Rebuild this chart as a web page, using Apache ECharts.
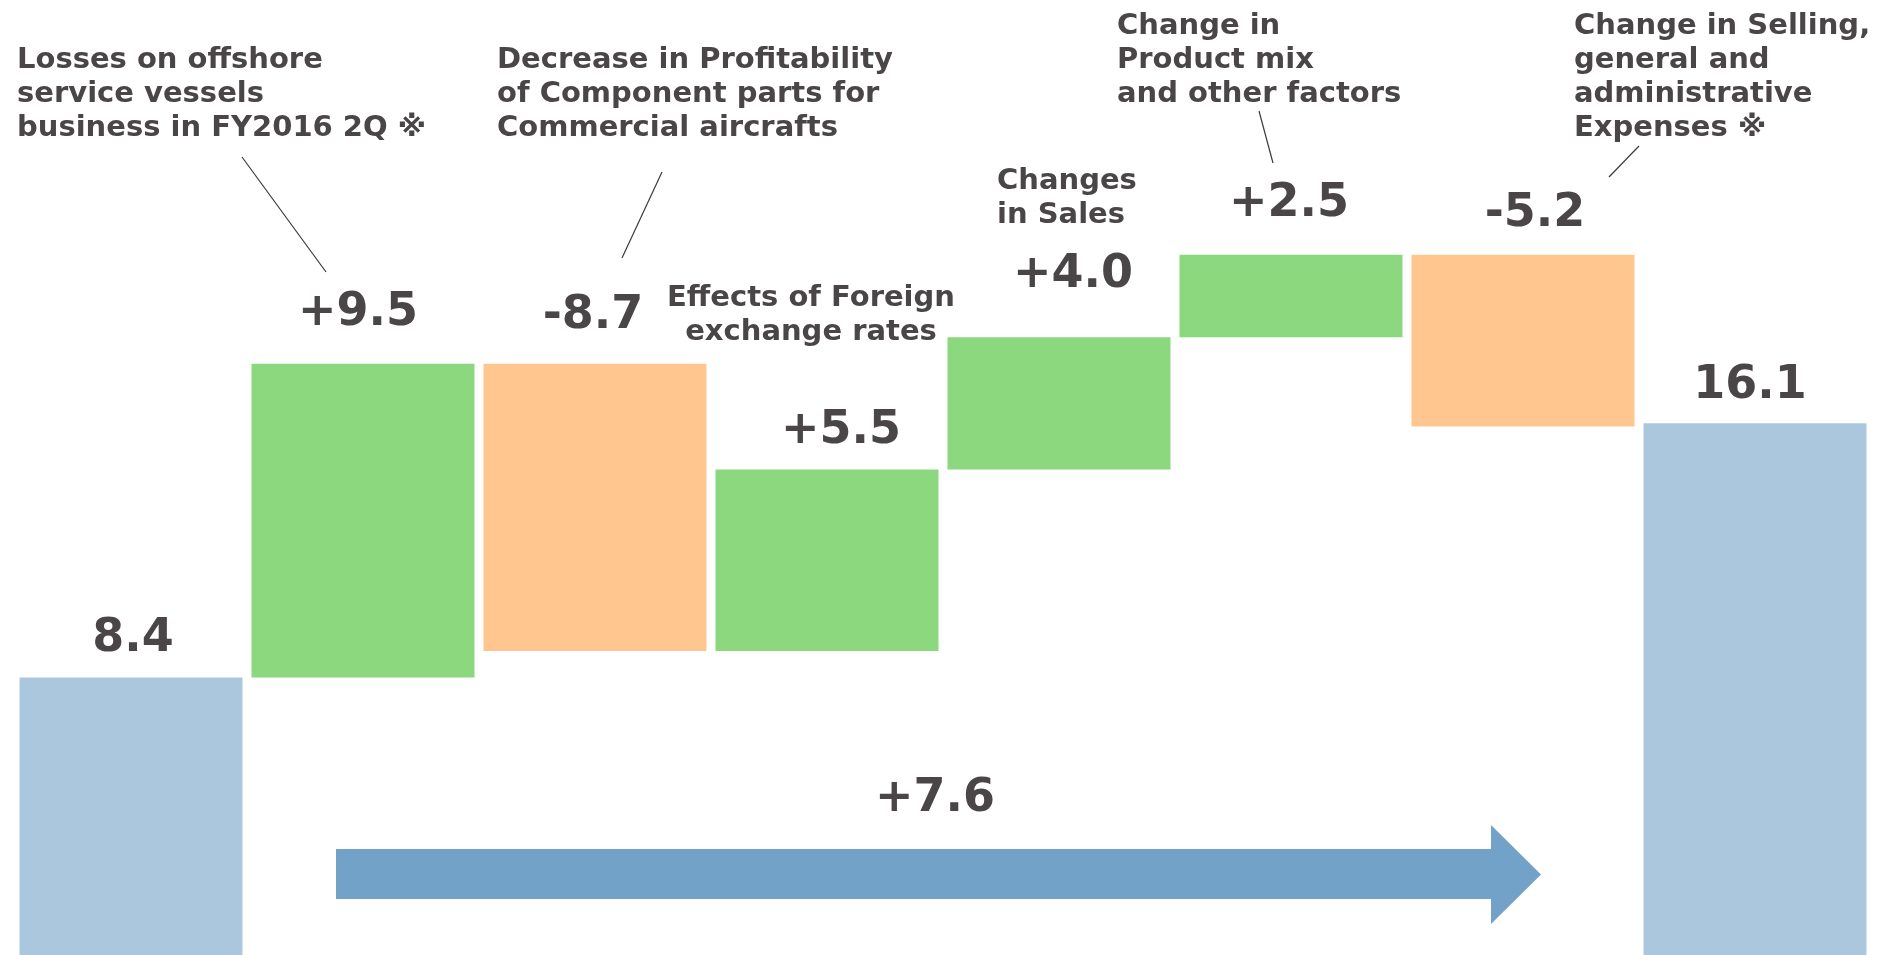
<!DOCTYPE html>
<html>
<head>
<meta charset="utf-8">
<script src="https://cdn.jsdelivr.net/npm/echarts@6/dist/echarts.min.js"></script>
<style>
html,body{margin:0;padding:0;background:#fff;}
#chart{width:1886px;height:955px;}
</style>
</head>
<body>
<div id="chart"></div>
<script>
// ---- data ----
const categories = ['FY2016 2Q', 'Offshore vessels', 'Component parts', 'Foreign exchange', 'Sales', 'Product mix', 'SG&A', 'FY2017 2Q'];
const values = [8.4, 9.5, -8.7, 5.5, 4.0, 2.5, -5.2, 16.1];
const kinds = ['total', 'delta', 'delta', 'delta', 'delta', 'delta', 'delta', 'total'];
const totalChange = 7.6;
const notes = [
  'Losses on offshore\nservice vessels\nbusiness in FY2016 2Q ※',
  'Decrease in Profitability\nof Component parts for\nCommercial aircrafts',
  'Effects of Foreign\nexchange rates',
  'Changes\nin Sales',
  'Change in\nProduct mix\nand other factors',
  'Change in Selling,\ngeneral and\nadministrative\nExpenses ※'
];

// ---- styling (positions of labels / annotations) ----
const labelDist = [15, 28, 25, 15, 39, 28, 17.5, 14];
const labelDx = [2, -5, -2, 14, 14, -2, 12, -5];
const COLORS = { total: '#ABC7DD', up: '#8CD87F', down: '#FFC690' };
const TEXT = '#4a4647';
const FONT = '"DejaVu Sans", sans-serif';

// ---- build waterfall ----
let running = 0;
const base = [], bars = [];
values.forEach((v, i) => {
  let b, h, color;
  if (kinds[i] === 'total') { b = 0; h = v; running = v; color = COLORS.total; }
  else if (v >= 0) { b = running; h = v; running += v; color = COLORS.up; }
  else { running += v; b = running; h = -v; color = COLORS.down; }
  base.push(+b.toFixed(2));
  const txt = kinds[i] === 'total' ? v.toFixed(1) : (v >= 0 ? '+' : '-') + Math.abs(v).toFixed(1);
  bars.push({
    value: +h.toFixed(2),
    itemStyle: { color },
    label: { distance: labelDist[i], offset: [labelDx[i], 0], formatter: txt }
  });
});

const chart = echarts.init(document.getElementById('chart'));
const noteStyle = { fill: TEXT, font: 'bold 29px ' + FONT, lineHeight: 34 };
const leader = (x1, y1, x2, y2) => ({ type: 'line', shape: { x1, y1, x2, y2 }, style: { stroke: '#3a3a3a', lineWidth: 1.2 } });

chart.setOption({
  animation: false,
  grid: { left: 15, right: 15, top: 30, bottom: -4 },
  xAxis: { type: 'category', data: categories, show: false },
  yAxis: { type: 'value', min: 0, max: 28, show: false },
  series: [
    { type: 'bar', stack: 'w', data: base, itemStyle: { color: 'transparent' }, barWidth: 223, silent: true },
    {
      type: 'bar', stack: 'w', data: bars, barWidth: 223,
      label: { show: true, position: 'top', color: TEXT, fontFamily: FONT, fontWeight: 'bold', fontSize: 46, lineHeight: 46 }
    }
  ],
  graphic: [
    { type: 'polygon', shape: { points: [[336, 849], [1491, 849], [1491, 825], [1541, 874.5], [1491, 924], [1491, 899], [336, 899]] }, style: { fill: '#72A2C8' } },
    { type: 'text', x: 935, y: 799, style: { text: '+' + totalChange.toFixed(1), fill: TEXT, font: 'bold 46px ' + FONT, textAlign: 'center', textVerticalAlign: 'middle' } },
    { type: 'text', x: 17, y: 43, style: Object.assign({ text: notes[0] }, noteStyle) },
    { type: 'text', x: 497, y: 43, style: Object.assign({ text: notes[1] }, noteStyle) },
    { type: 'text', x: 811, y: 281, style: Object.assign({ text: notes[2], textAlign: 'center' }, noteStyle) },
    { type: 'text', x: 997, y: 164, style: Object.assign({ text: notes[3] }, noteStyle) },
    { type: 'text', x: 1117, y: 9, style: Object.assign({ text: notes[4] }, noteStyle) },
    { type: 'text', x: 1574, y: 9, style: Object.assign({ text: notes[5] }, noteStyle) },
    leader(242, 157, 326, 272),
    leader(662, 172, 622, 258),
    leader(1259, 111, 1273, 163),
    leader(1639, 146, 1609, 177)
  ]
});
</script>
</body>
</html>
